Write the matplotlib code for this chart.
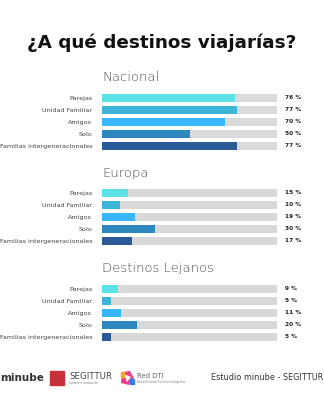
import matplotlib
matplotlib.use("Agg")
import matplotlib.pyplot as plt
from matplotlib.patches import Rectangle, Polygon

W, H = 324, 400
DPI = 100

categories = ["Parejas", "Unidad Familiar", "Amigos", "Solo", "Familias intergeneracionales"]
nacional = [76, 77, 70, 50, 77]
europa = [15, 10, 19, 30, 17]
lejanos = [9, 5, 11, 20, 5]
sections = ["Nacional", "Europa", "Destinos Lejanos"]
colors = ["#5CE1E6", "#3DB5D6", "#38B6FF", "#2E86BE", "#2B5A96"]

fig = plt.figure(figsize=(W / DPI, H / DPI), dpi=DPI)
fig.patch.set_facecolor("white")

# overlay axes in pixel coords
ov = fig.add_axes([0, 0, 1, 1])
ov.set_xlim(0, W)
ov.set_ylim(H, 0)
ov.axis("off")

ov.text(162, 43, "¿A qué destinos viajarías?", ha="center", va="center",
        fontsize=13.2, fontweight="bold", color="#111111", family="DejaVu Sans")

def px_axes(left, top, width, height):
    return fig.add_axes([left / W, 1 - (top + height) / H, width / W, height / H])

bar_left, bar_w = 102, 175
row_h = 12
tops = [91.7, 186.7, 283]
title_y = [77, 173, 268]

for sec, vals, top, ty in zip(sections, [nacional, europa, lejanos], tops, title_y):
    ax = px_axes(bar_left, top, bar_w, row_h * len(categories))
    ys = list(range(len(categories)))
    ax.barh(ys, [100] * len(ys), height=0.68, color="#D9D9D9", zorder=1)
    ax.barh(ys, vals, height=0.68, color=colors, zorder=2)
    ax.set_xlim(0, 100)
    ax.set_ylim(len(categories) - 0.5, -0.5)
    ax.set_yticks(ys)
    ax.set_yticklabels(categories, fontsize=4.6, color="#444444")
    ax.tick_params(axis="y", length=0, pad=7)
    ax.set_xticks([])
    for s in ax.spines.values():
        s.set_visible(False)
    ax.patch.set_alpha(0)
    for y, v in zip(ys, vals):
        ax.text(104.5, y, f"{v} %", ha="left", va="center", fontsize=4.2,
                fontweight="bold", color="#222222")
    ov.text(bar_left, ty, sec, ha="left", va="center", fontsize=9.5,
            color="#505050", family="DejaVu Sans", fontweight="light")

# footer
fy = 378
ov.text(0, fy, "minube", ha="left", va="center", fontsize=7.5, fontweight="bold", color="#333333")
ov.add_patch(Rectangle((50, fy - 7), 14, 14, color="#C8313A"))
ov.text(69, fy - 1.5, "SEGITTUR", ha="left", va="center", fontsize=6.2, color="#444444")
ov.text(69, fy + 5, "turismo e innovación", ha="left", va="center", fontsize=2, color="#777777")
ov.add_patch(Polygon([(122, fy - 6), (130, fy - 7), (134, fy), (129, fy + 7), (121, fy + 5)],
                     closed=True, facecolor="#E83E8C"))
ov.add_patch(Polygon([(124, fy - 4), (131, fy - 1), (127, fy + 4)], closed=True, facecolor="white"))
ov.add_patch(Rectangle((121, fy - 6), 3, 5, color="#F5A623"))
ov.add_patch(Rectangle((130, fy + 1), 4, 5, color="#2F80ED"))
ov.text(137, fy - 2, "Red DTI", ha="left", va="center", fontsize=5, color="#666666")
ov.text(137, fy + 4, "Red de Destinos Turísticos Inteligentes", ha="left", va="center", fontsize=1.8, color="#777777")
ov.text(323, fy, "Estudio minube - SEGITTUR", ha="right", va="center", fontsize=5.9, color="#333333")

fig.savefig("out.png", dpi=DPI, facecolor="white")
